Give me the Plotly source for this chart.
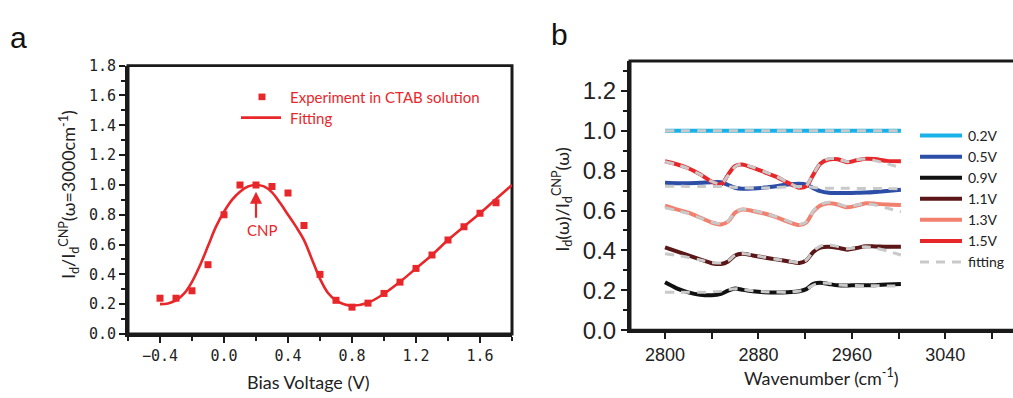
import plotly.graph_objects as go

W, H = 1013, 398

# ---------------- Panel a data ----------------
bias_exp = [-0.4, -0.3, -0.2, -0.1, 0.0, 0.1, 0.2, 0.3, 0.4, 0.5, 0.6, 0.7, 0.8,
            0.9, 1.0, 1.1, 1.2, 1.3, 1.4, 1.5, 1.6, 1.7]
ratio_exp = [0.24, 0.24, 0.29, 0.465, 0.80, 1.00, 1.00, 0.99, 0.945, 0.727, 0.40, 0.226,
             0.18, 0.207, 0.272, 0.348, 0.44, 0.53, 0.63, 0.72, 0.81, 0.88]

bias_fit = [-0.4, -0.35, -0.3, -0.25, -0.2, -0.15, -0.1, -0.05, 0.0, 0.05, 0.1, 0.15,
            0.2, 0.25, 0.3, 0.35, 0.4, 0.45, 0.5, 0.55, 0.6, 0.65, 0.7, 0.75, 0.8,
            0.9, 1.0, 1.1, 1.2, 1.3, 1.4, 1.5, 1.6, 1.7, 1.8]
ratio_fit = [0.20, 0.205, 0.225, 0.27, 0.35, 0.46, 0.59, 0.72, 0.82, 0.90, 0.955, 0.99,
             1.00, 0.99, 0.95, 0.88, 0.80, 0.72, 0.63, 0.50, 0.37, 0.275, 0.225, 0.20, 0.19,
             0.21, 0.27, 0.35, 0.44, 0.53, 0.63, 0.72, 0.81, 0.905, 1.00]

# ---------------- Panel b data ----------------
wavenumber = [2800, 2810, 2820, 2830, 2840, 2848, 2854, 2860, 2866, 2875, 2885, 2895,
              2905, 2915, 2921, 2927, 2933, 2940, 2948, 2956, 2964, 2972, 2980, 2990, 3002]

v02 = [1.0] * 25
v02_fit = [1.0] * 25

v05 = [0.739, 0.737, 0.737, 0.739, 0.742, 0.742, 0.728, 0.714, 0.709, 0.710, 0.715, 0.722,
       0.730, 0.734, 0.730, 0.712, 0.697, 0.689, 0.688, 0.688, 0.689, 0.690, 0.693, 0.698, 0.704]
v05_fit = [0.722, 0.722, 0.721, 0.721, 0.721, 0.721, 0.719, 0.716, 0.714, 0.713, 0.713, 0.715,
           0.718, 0.721, 0.720, 0.716, 0.713, 0.712, 0.712, 0.712, 0.711, 0.711, 0.711, 0.710, 0.709]

v09 = [0.240, 0.210, 0.190, 0.178, 0.175, 0.182, 0.198, 0.209, 0.203, 0.195, 0.190, 0.189,
       0.190, 0.195, 0.206, 0.232, 0.238, 0.232, 0.225, 0.224, 0.226, 0.225, 0.226, 0.229, 0.232]
v09_fit = [0.190, 0.190, 0.190, 0.190, 0.192, 0.196, 0.204, 0.208, 0.205, 0.198, 0.193, 0.191,
           0.191, 0.196, 0.206, 0.226, 0.236, 0.235, 0.227, 0.224, 0.224, 0.223, 0.223, 0.222, 0.222]

v11 = [0.415, 0.395, 0.375, 0.355, 0.336, 0.332, 0.345, 0.375, 0.383, 0.375, 0.365, 0.355,
       0.346, 0.337, 0.350, 0.392, 0.414, 0.419, 0.413, 0.404, 0.412, 0.421, 0.420, 0.418, 0.419]
v11_fit = [0.383, 0.375, 0.365, 0.352, 0.340, 0.337, 0.348, 0.376, 0.385, 0.377, 0.366, 0.356,
           0.347, 0.339, 0.352, 0.396, 0.422, 0.428, 0.420, 0.409, 0.414, 0.418, 0.412, 0.398, 0.377]

v13 = [0.625, 0.606, 0.590, 0.565, 0.540, 0.530, 0.545, 0.590, 0.605, 0.598, 0.585, 0.567,
       0.545, 0.527, 0.540, 0.595, 0.625, 0.636, 0.630, 0.616, 0.625, 0.636, 0.634, 0.630, 0.628]
v13_fit = [0.614, 0.600, 0.585, 0.563, 0.542, 0.534, 0.548, 0.590, 0.606, 0.600, 0.586, 0.569,
           0.548, 0.530, 0.543, 0.598, 0.630, 0.642, 0.634, 0.620, 0.628, 0.634, 0.628, 0.612, 0.594]

v15 = [0.847, 0.832, 0.812, 0.782, 0.745, 0.731, 0.780, 0.823, 0.831, 0.815, 0.793, 0.770,
       0.740, 0.714, 0.722, 0.780, 0.835, 0.856, 0.857, 0.842, 0.852, 0.860, 0.858, 0.849, 0.847]
v15_fit = [0.845, 0.830, 0.810, 0.781, 0.746, 0.734, 0.776, 0.820, 0.833, 0.818, 0.795, 0.772,
           0.742, 0.717, 0.725, 0.782, 0.836, 0.860, 0.858, 0.845, 0.855, 0.858, 0.850, 0.835, 0.815]

series_labels = ["0.2V", "0.5V", "0.9V", "1.1V", "1.3V", "1.5V"]
series_vals = [v02, v05, v09, v11, v13, v15]
series_fits = [v02_fit, v05_fit, v09_fit, v11_fit, v13_fit, v15_fit]
series_colors = ["#19b2e8", "#2d4ea6", "#111111", "#5b1717", "#f2806f", "#e8272b"]
fit_color = "#c9c9c9"

RED = "#e8272b"
AXC = "#1a1a1a"
FRAMEC = "#1a1a1a"

fig = go.Figure()

fig.add_trace(go.Scatter(x=bias_fit, y=ratio_fit, mode="lines", line=dict(color=RED, width=2.6, shape="spline"),
                         xaxis="x", yaxis="y", showlegend=False))
fig.add_trace(go.Scatter(x=bias_exp, y=ratio_exp, mode="markers",
                         marker=dict(symbol="square", size=7, color=RED),
                         xaxis="x", yaxis="y", showlegend=False))

for vals, col in zip(series_vals, series_colors):
    fig.add_trace(go.Scatter(x=wavenumber, y=vals, mode="lines",
                             line=dict(color=col, width=4, shape="spline", smoothing=0.8),
                             xaxis="x2", yaxis="y2", showlegend=False))
for fv in series_fits:
    fig.add_trace(go.Scatter(x=wavenumber, y=fv, mode="lines",
                             line=dict(color=fit_color, width=3, dash="9px,7px", shape="spline", smoothing=0.8),
                             xaxis="x2", yaxis="y2", showlegend=False))

def px(xp):
    return xp / W

def py(yp):
    return 1 - yp / H

tickfont_a = dict(family="DejaVu Sans Mono", size=15, color="#222")
axis_common = dict(showgrid=False, zeroline=False, showline=True, linecolor=AXC, linewidth=3,
                   ticks="outside", ticklen=6, tickwidth=2, tickcolor=AXC)

fig.update_layout(
    width=W, height=H,
    margin=dict(l=0, r=0, t=0, b=0),
    paper_bgcolor="white", plot_bgcolor="rgba(0,0,0,0)",
    xaxis=dict(domain=[px(128), px(512)], range=[-0.6, 1.8], anchor="y",
               tick0=-0.4, dtick=0.4, tickformat=".1f", tickfont=tickfont_a,
               minor=dict(dtick=0.2, tick0=-0.4, ticks="outside", ticklen=4, tickwidth=2, tickcolor=AXC),
               **axis_common),
    yaxis=dict(domain=[py(344), py(60)], range=[0, 1.8], anchor="x",
               dtick=0.2, tickformat=".1f", tickfont=tickfont_a,
               minor=dict(dtick=0.1, ticks="outside", ticklen=4, tickwidth=2, tickcolor=AXC),
               **axis_common),
    xaxis2=dict(domain=[px(630), 1.0], range=[2770, 3098], anchor="y2",
                tick0=2800, dtick=80, tickfont=dict(family="Liberation Sans", size=18, color="#222"),
                minor=dict(dtick=40, tick0=2800, ticks="outside", ticklen=6, tickwidth=2, tickcolor=AXC),
                **axis_common),
    yaxis2=dict(domain=[py(340), py(55)], range=[0, 1.35], anchor="x2",
                dtick=0.2, tickformat=".1f", tickfont=dict(family="Liberation Sans", size=24, color="#222"),
                minor=dict(dtick=0.1, ticks="outside", ticklen=4, tickwidth=2, tickcolor=AXC),
                **axis_common),
)

TF = "Lato"
TXC = "#222222"
ann = []
ann.append(dict(x=px(8), y=py(30), xref="paper", yref="paper", text="a", showarrow=False,
                xanchor="left", yanchor="middle", font=dict(family="Liberation Sans", size=30, color="#111")))
ann.append(dict(x=px(549), y=py(27), xref="paper", yref="paper", text="b", showarrow=False,
                xanchor="left", yanchor="middle", font=dict(family="Liberation Sans", size=30, color="#111")))
ann.append(dict(x=px(308), y=py(395), xref="paper", yref="paper", text="Bias Voltage (V)", showarrow=False,
                xanchor="center", yanchor="middle", font=dict(family=TF, size=18, color=TXC)))
ann.append(dict(x=px(69), y=py(197), xref="paper", yref="paper",
                text="I<sub>d</sub>/I<sub>d</sub><sup>CNP</sup>(ω=3000cm<sup>-1</sup>)", showarrow=False,
                textangle=-90, xanchor="center", yanchor="middle", font=dict(family=TF, size=18, color=TXC)))
ann.append(dict(x=px(821), y=py(390), xref="paper", yref="paper", text="Wavenumber (cm<sup>-1</sup>)", showarrow=False,
                xanchor="center", yanchor="middle", font=dict(family=TF, size=18, color=TXC)))
ann.append(dict(x=px(562), y=py(202), xref="paper", yref="paper",
                text="I<sub>d</sub>(ω)/I<sub>d</sub><sup>CNP</sup>(ω)", showarrow=False,
                textangle=-90, xanchor="center", yanchor="middle", font=dict(family=TF, size=18, color=TXC)))
ann.append(dict(x=0.2, y=0.955, ax=0.2, ay=0.77, xref="x", yref="y", axref="x", ayref="y",
                text="", showarrow=True, arrowhead=2, arrowsize=1.1, arrowwidth=2.2, arrowcolor=RED))
ann.append(dict(x=0.24, y=0.70, xref="x", yref="y", text="CNP", showarrow=False,
                font=dict(family=TF, size=15, color=RED)))
ann.append(dict(x=px(288), y=py(93), xref="paper", yref="paper", text="Experiment in CTAB solution",
                showarrow=False, xanchor="left", yanchor="middle", font=dict(family=TF, size=15, color=RED)))
ann.append(dict(x=px(288), y=py(115), xref="paper", yref="paper", text="Fitting",
                showarrow=False, xanchor="left", yanchor="middle", font=dict(family=TF, size=15, color=RED)))

shapes = []
def frame(x0, x1, y0, y1, t=3):
    shapes.append(dict(type="rect", xref="paper", yref="paper", layer="below",
                       x0=px(x0 - t / 2), x1=px(x1 + t / 2), y0=py(y1 + t / 2), y1=py(y0 - t / 2),
                       fillcolor=FRAMEC, line=dict(width=0)))
    shapes.append(dict(type="rect", xref="paper", yref="paper", layer="below",
                       x0=px(x0 + t / 2), x1=px(x1 - t / 2), y0=py(y1 - t / 2), y1=py(y0 + t / 2),
                       fillcolor="white", line=dict(width=0)))

frame(128, 512, 60, 344)
frame(630, 1040, 55, 340)

shapes.append(dict(type="rect", xref="paper", yref="paper", x0=px(258.5), x1=px(265.5), y0=py(96.5), y1=py(89.5),
                   fillcolor=RED, line=dict(width=0)))
shapes.append(dict(type="line", xref="paper", yref="paper", x0=px(241), x1=px(281), y0=py(115), y1=py(115),
                   line=dict(color=RED, width=2.6)))
leg_y0 = 134
for i, (lab, col) in enumerate(zip(series_labels + ["fitting"], series_colors + [fit_color])):
    yy = leg_y0 + i * 22.3
    if lab == "fitting":
        shapes.append(dict(type="line", xref="paper", yref="paper", x0=px(920), x1=px(962), y0=py(yy), y1=py(yy),
                           line=dict(color=col, width=3, dash="9px,7px")))
    else:
        shapes.append(dict(type="line", xref="paper", yref="paper", x0=px(920), x1=px(962), y0=py(yy), y1=py(yy),
                           line=dict(color=col, width=4)))
    ann.append(dict(x=px(966), y=py(yy), xref="paper", yref="paper", text=lab, showarrow=False,
                    xanchor="left", yanchor="middle", font=dict(family=TF, size=14, color=TXC)))

fig.update_layout(annotations=ann, shapes=shapes)
fig.write_html("out.html")
